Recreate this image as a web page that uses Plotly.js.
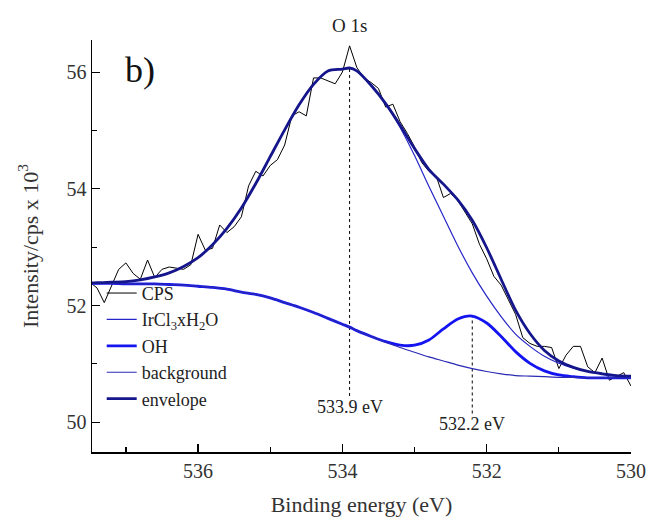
<!DOCTYPE html>
<html>
<head>
<meta charset="utf-8">
<script src="https://cdn.plot.ly/plotly-3.0.1.min.js"></script>
<style>html,body{margin:0;padding:0;background:#fff;}#chart{width:649px;height:520px;}</style>
</head>
<body>
<div id="chart"></div>
<script>
// Binding energy grid for the fitted curves (eV)
const energyFit = [537.5, 537.4, 537.2, 537.0, 536.8, 536.6, 536.4, 536.2, 536.0, 535.8, 535.6, 535.4, 535.2, 535.0, 534.8, 534.6, 534.4, 534.2, 534.0, 533.9, 533.8, 533.6, 533.4, 533.2, 533.0, 532.8, 532.6, 532.4, 532.2, 532.0, 531.8, 531.6, 531.4, 531.2, 531.0, 530.8, 530.6, 530.4, 530.2, 530.0];
const background = [52.38, 52.38, 52.38, 52.37, 52.37, 52.37, 52.36, 52.35, 52.33, 52.31, 52.28, 52.23, 52.19, 52.13, 52.05, 51.97, 51.88, 51.78, 51.68, 51.63, 51.57, 51.47, 51.37, 51.28, 51.20, 51.12, 51.05, 50.98, 50.92, 50.87, 50.83, 50.80, 50.79, 50.78, 50.77, 50.77, 50.76, 50.76, 50.76, 50.76];
const ircl3 = [52.39, 52.39, 52.40, 52.41, 52.44, 52.49, 52.56, 52.67, 52.82, 53.04, 53.32, 53.67, 54.09, 54.55, 55.01, 55.44, 55.79, 56.02, 56.05, 56.07, 56.02, 55.77, 55.45, 55.05, 54.57, 54.04, 53.53, 53.02, 52.56, 52.16, 51.81, 51.51, 51.30, 51.13, 51.01, 50.93, 50.87, 50.83, 50.80, 50.79];
const oh = [52.38, 52.38, 52.38, 52.37, 52.37, 52.37, 52.36, 52.35, 52.33, 52.31, 52.28, 52.23, 52.19, 52.13, 52.05, 51.97, 51.88, 51.78, 51.68, 51.63, 51.57, 51.47, 51.38, 51.32, 51.32, 51.41, 51.60, 51.77, 51.82, 51.70, 51.47, 51.21, 51.01, 50.88, 50.81, 50.78, 50.76, 50.76, 50.76, 50.76];
const envelope = [52.39, 52.39, 52.40, 52.41, 52.44, 52.49, 52.56, 52.67, 52.82, 53.04, 53.32, 53.67, 54.09, 54.55, 55.01, 55.44, 55.79, 56.02, 56.05, 56.07, 56.02, 55.77, 55.46, 55.09, 54.69, 54.33, 54.08, 53.81, 53.46, 52.99, 52.45, 51.92, 51.52, 51.23, 51.05, 50.94, 50.87, 50.83, 50.80, 50.79];

// Measured spectrum (counts per second x 10^3)
const energyCps = [537.5, 537.4, 537.3, 537.2, 537.1, 537.0, 536.9, 536.8, 536.7, 536.6, 536.5, 536.4, 536.3, 536.2, 536.1, 536.0, 535.9, 535.8, 535.7, 535.6, 535.5, 535.4, 535.3, 535.2, 535.1, 535.0, 534.9, 534.8, 534.7, 534.6, 534.5, 534.4, 534.3, 534.2, 534.1, 534.0, 533.9, 533.8, 533.7, 533.6, 533.5, 533.4, 533.3, 533.2, 533.1, 533.0, 532.9, 532.8, 532.7, 532.6, 532.5, 532.4, 532.3, 532.2, 532.1, 532.0, 531.9, 531.8, 531.7, 531.6, 531.5, 531.4, 531.3, 531.2, 531.1, 531.0, 530.9, 530.8, 530.7, 530.6, 530.5, 530.4, 530.3, 530.2, 530.1, 530.0];
const cps = [52.40, 52.30, 52.05, 52.35, 52.62, 52.73, 52.55, 52.45, 52.78, 52.48, 52.62, 52.66, 52.64, 52.62, 52.70, 53.22, 52.95, 52.98, 53.38, 53.25, 53.35, 53.52, 54.05, 54.30, 54.22, 54.40, 54.50, 54.75, 55.25, 55.32, 55.25, 55.90, 55.90, 55.85, 55.80, 56.00, 56.45, 56.08, 55.90, 55.82, 55.72, 55.40, 55.45, 55.15, 54.95, 54.72, 54.45, 54.30, 54.22, 53.85, 53.92, 53.80, 53.60, 53.40, 53.05, 52.80, 52.50, 52.35, 52.10, 51.85, 51.45, 51.35, 51.30, 51.30, 51.28, 50.92, 51.15, 51.30, 51.30, 50.95, 50.85, 51.10, 50.72, 50.78, 50.85, 50.62];

// Peak markers
const peakEnergies = [533.9, 532.2];
const peakTops = [56.07, 51.82];
const peakLineBottoms = [50.45, 50.15];
const peakLabels = ['533.9 eV', '532.2 eV'];
const peakLabelY = [50.26, 49.97];

const serif = "'Liberation Serif', 'Times New Roman', serif";

const traces = [
  {x: energyCps, y: cps, name: 'CPS', mode: 'lines', line: {color: '#000000', width: 1}},
  {x: energyFit, y: ircl3, name: 'IrCl<sub>3</sub>xH<sub>2</sub>O', mode: 'lines', line: {color: '#2626c8', width: 1.2, shape: 'spline', smoothing: 0.8}},
  {x: energyFit, y: oh, name: 'OH', mode: 'lines', line: {color: '#1414f0', width: 2.8, shape: 'spline', smoothing: 0.8}},
  {x: energyFit, y: background, name: 'background', mode: 'lines', line: {color: '#2a2ab4', width: 1.2, shape: 'spline', smoothing: 0.8}},
  {x: energyFit, y: envelope, name: 'envelope', mode: 'lines', line: {color: '#16168c', width: 2.8, shape: 'spline', smoothing: 0.8}}
];

const shapes = peakEnergies.map((e, i) => ({
  type: 'line', xref: 'x', yref: 'y', x0: e, x1: e, y0: peakLineBottoms[i], y1: peakTops[i],
  line: {color: '#000', width: 1, dash: 'dot'}, layer: 'below'
}));

const annotations = peakEnergies.map((e, i) => ({
  x: e, y: peakLabelY[i], xref: 'x', yref: 'y', text: peakLabels[i], showarrow: false,
  font: {family: serif, size: 18, color: '#222'}, xanchor: 'center', yanchor: 'middle'
}));
annotations.push({x: peakEnergies[0], y: 1.035, xref: 'x', yref: 'paper', text: 'O 1s', showarrow: false,
  font: {family: serif, size: 19, color: '#222'}, xanchor: 'center', yanchor: 'middle'});
annotations.push({x: 0.089, y: 0.927, xref: 'paper', yref: 'paper', text: 'b)', showarrow: false,
  font: {family: serif, size: 36, color: '#111'}, xanchor: 'center', yanchor: 'middle'});

const layout = {
  width: 649, height: 520,
  margin: {l: 92, r: 18, t: 40, b: 68},
  paper_bgcolor: '#fff', plot_bgcolor: '#fff',
  showlegend: true,
  legend: {x: 0.018, y: 0.43, xanchor: 'left', yanchor: 'top', bgcolor: 'rgba(0,0,0,0)',
    font: {family: serif, size: 18, color: '#222'}, tracegroupgap: 0},
  xaxis: {
    range: [537.47, 530], autorange: false,
    tickvals: [536, 534, 532, 530], ticktext: ['536', '534', '532', '530'],
    ticks: 'inside', ticklen: 8, tickwidth: 1.2, tickcolor: '#000',
    minor: {tickvals: [537, 535, 533, 531], ticks: 'inside', ticklen: 5, tickwidth: 1.2, tickcolor: '#000'},
    showline: true, linecolor: '#000', linewidth: 1.5, mirror: false,
    showgrid: false, zeroline: false,
    tickfont: {family: serif, size: 20, color: '#333'},
    title: {text: 'Binding energy (eV)', font: {family: serif, size: 22, color: '#333'}, standoff: 16}
  },
  yaxis: {
    range: [49.49, 56.55], autorange: false,
    tickvals: [50, 52, 54, 56], ticktext: ['50', '52', '54', '56'],
    ticks: 'inside', ticklen: 8, tickwidth: 1.2, tickcolor: '#000',
    minor: {tickvals: [51, 53, 55], ticks: 'inside', ticklen: 5, tickwidth: 1.2, tickcolor: '#000'},
    showline: true, linecolor: '#000', linewidth: 1.5, mirror: false,
    showgrid: false, zeroline: false,
    tickfont: {family: serif, size: 20, color: '#333'},
    title: {text: 'Intensity/cps x 10<sup>3</sup>', font: {family: serif, size: 22, color: '#333'}, standoff: 22}
  },
  shapes: shapes,
  annotations: annotations
};

Plotly.newPlot('chart', traces, layout, {displayModeBar: false, staticPlot: true});
</script>
</body>
</html>
